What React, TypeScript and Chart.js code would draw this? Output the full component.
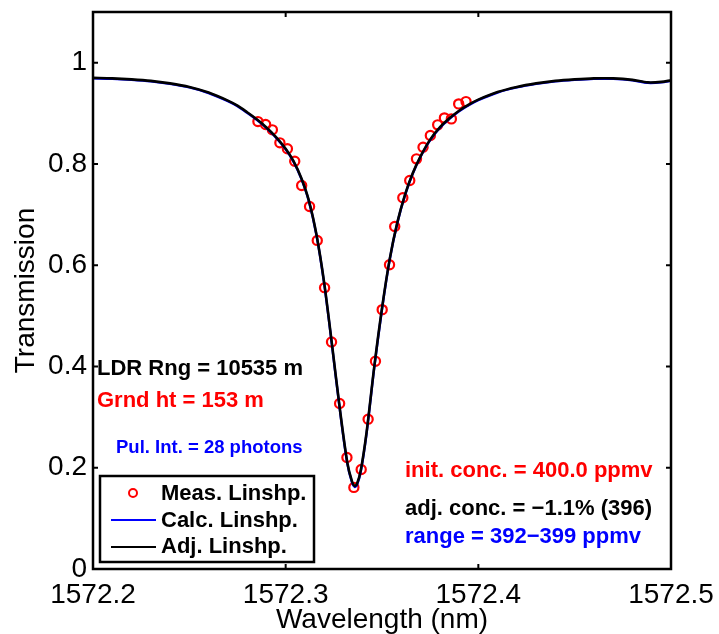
import React, { useEffect, useRef } from "react";
import { Chart, registerables } from "chart.js";

Chart.register(...registerables);

// ---- data ----
const measX = [
  1572.2856, 1572.2896, 1572.2931, 1572.297, 1572.3009, 1572.3047, 1572.3083, 1572.3124,
  1572.3164, 1572.3202, 1572.3238, 1572.328, 1572.3318, 1572.3354, 1572.3392, 1572.3428,
  1572.3466, 1572.3501, 1572.3539, 1572.3566, 1572.3608, 1572.3644, 1572.3679, 1572.3713,
  1572.3751, 1572.3789, 1572.3824, 1572.386, 1572.3898, 1572.3936,
];
const measY = [
  0.8836, 0.8777, 0.8673, 0.8416, 0.8298, 0.8053, 0.7574, 0.716,
  0.6489, 0.5556, 0.4483, 0.3268, 0.2203, 0.1611, 0.1966, 0.2959,
  0.4103, 0.5122, 0.601, 0.6765, 0.7331, 0.7673, 0.81, 0.833,
  0.856, 0.8771, 0.8909, 0.8889, 0.9185, 0.9231,
];

const curveX = [
  1572.2, 1572.21, 1572.22, 1572.23, 1572.24, 1572.25, 1572.26, 1572.27, 1572.275, 1572.28,
  1572.285, 1572.29, 1572.295, 1572.3, 1572.304, 1572.308, 1572.312, 1572.316, 1572.32, 1572.324,
  1572.328, 1572.332, 1572.3345, 1572.3358, 1572.337, 1572.339, 1572.342, 1572.346, 1572.35, 1572.354,
  1572.358, 1572.362, 1572.366, 1572.37, 1572.375, 1572.38, 1572.385, 1572.39, 1572.395, 1572.4,
  1572.41, 1572.42, 1572.43, 1572.44, 1572.45, 1572.46, 1572.47, 1572.48, 1572.488, 1572.495, 1572.5,
];
const adjY = [
  0.970, 0.969, 0.967, 0.964, 0.959, 0.952, 0.941, 0.925, 0.915, 0.902,
  0.888, 0.872, 0.853, 0.830, 0.806, 0.773, 0.728, 0.660, 0.565, 0.445,
  0.320, 0.210, 0.172, 0.164, 0.168, 0.195, 0.270, 0.400, 0.515, 0.612,
  0.685, 0.740, 0.782, 0.815, 0.848, 0.872, 0.890, 0.905, 0.917, 0.927,
  0.942, 0.952, 0.959, 0.964, 0.967, 0.969, 0.969, 0.966, 0.961, 0.962, 0.965,
];
const calcY = [
  0.969, 0.968, 0.966, 0.963, 0.958, 0.951, 0.940, 0.924, 0.914, 0.901,
  0.887, 0.871, 0.852, 0.829, 0.805, 0.772, 0.727, 0.659, 0.563, 0.443,
  0.318, 0.208, 0.170, 0.162, 0.166, 0.193, 0.268, 0.398, 0.513, 0.611,
  0.684, 0.739, 0.781, 0.814, 0.847, 0.871, 0.889, 0.904, 0.916, 0.926,
  0.941, 0.951, 0.958, 0.963, 0.966, 0.968, 0.968, 0.965, 0.960, 0.961, 0.964,
];

const xTicks = [1572.2, 1572.3, 1572.4, 1572.5];
const yTicks = [0, 0.2, 0.4, 0.6, 0.8, 1];

const seriesNames = ["Meas. Linshp.", "Calc. Linshp.", "Adj. Linshp."];
const leftNotes = ["LDR Rng = 10535 m", "Grnd ht = 153 m", "Pul. Int. = 28 photons"];
const rightNotes = ["init. conc. = 400.0 ppmv", "adj. conc. = \u22121.1% (396)", "range = 392\u2212399 ppmv"];

// ---- styles ----
const FONT = "'Liberation Sans', Arial, Helvetica, sans-serif";
const RED = "#ff0000";
const BLUE = "#0000ff";
const BLACK = "#000000";

const overlayPlugin = {
  id: "overlay",
  afterDraw(chart: any) {
    const ctx = chart.ctx as CanvasRenderingContext2D;
    const { left, right, top, bottom } = chart.chartArea;
    const xs = chart.scales.x;
    const ys = chart.scales.y;
    ctx.save();
    // box
    ctx.strokeStyle = BLACK;
    ctx.lineWidth = 2.5;
    ctx.strokeRect(left, top, right - left, bottom - top);
    // inward ticks
    const tl = 5;
    ctx.lineWidth = 2;
    ctx.beginPath();
    xTicks.forEach((v) => {
      const px = xs.getPixelForValue(v);
      ctx.moveTo(px, bottom);
      ctx.lineTo(px, bottom - tl);
      ctx.moveTo(px, top);
      ctx.lineTo(px, top + tl);
    });
    yTicks.forEach((v) => {
      const py = ys.getPixelForValue(v);
      ctx.moveTo(left, py);
      ctx.lineTo(left + tl, py);
      ctx.moveTo(right, py);
      ctx.lineTo(right - tl, py);
    });
    ctx.stroke();

    // annotations
    ctx.textAlign = "left";
    ctx.textBaseline = "alphabetic";
    ctx.font = `bold 22px ${FONT}`;
    ctx.fillStyle = BLACK;
    ctx.fillText(leftNotes[0], left + 4, top + 363);
    ctx.fillStyle = RED;
    ctx.fillText(leftNotes[1], left + 4, top + 395);
    ctx.font = `bold 18.5px ${FONT}`;
    ctx.fillStyle = BLUE;
    ctx.fillText(leftNotes[2], left + 23, top + 441);

    ctx.font = `bold 22px ${FONT}`;
    ctx.fillStyle = RED;
    ctx.fillText(rightNotes[0], left + 312, top + 465);
    ctx.fillStyle = BLACK;
    ctx.fillText(rightNotes[1], left + 312, top + 503);
    ctx.fillStyle = BLUE;
    ctx.fillText(rightNotes[2], left + 312, top + 531);

    // legend
    const lx = left + 7;
    const ly = top + 464;
    const lw = 214;
    const lh = 86;
    ctx.fillStyle = "#ffffff";
    ctx.fillRect(lx, ly, lw, lh);
    ctx.strokeStyle = BLACK;
    ctx.lineWidth = 2.5;
    ctx.strokeRect(lx, ly, lw, lh);
    ctx.font = `bold 22px ${FONT}`;
    ctx.fillStyle = BLACK;
    const textX = lx + 61;
    const rows = [ly + 24, ly + 51, ly + 77];
    ctx.beginPath();
    ctx.strokeStyle = RED;
    ctx.lineWidth = 2;
    ctx.arc(lx + 33, rows[0] - 7, 4, 0, Math.PI * 2);
    ctx.stroke();
    ctx.beginPath();
    ctx.strokeStyle = BLUE;
    ctx.lineWidth = 2;
    ctx.moveTo(lx + 11, rows[1] - 7);
    ctx.lineTo(lx + 56, rows[1] - 7);
    ctx.stroke();
    ctx.beginPath();
    ctx.strokeStyle = BLACK;
    ctx.lineWidth = 2;
    ctx.moveTo(lx + 11, rows[2] - 6);
    ctx.lineTo(lx + 56, rows[2] - 6);
    ctx.stroke();
    seriesNames.forEach((n, i) => ctx.fillText(n, textX, rows[i]));
    ctx.restore();
  },
};

export default function App() {
  const ref = useRef<HTMLCanvasElement>(null);
  useEffect(() => {
    document.body.style.margin = "0";
    const canvas = ref.current!;
    const chart = new Chart(canvas, {
      type: "scatter",
      data: {
        datasets: [
          {
            label: seriesNames[2],
            data: curveX.map((x, i) => ({ x, y: adjY[i] })),
            showLine: true,
            borderColor: BLACK,
            borderWidth: 2.6,
            pointRadius: 0,
            tension: 0.3,
            order: 0,
          } as any,
          {
            label: seriesNames[1],
            data: curveX.map((x, i) => ({ x, y: calcY[i] })),
            showLine: true,
            borderColor: BLUE,
            borderWidth: 2.4,
            pointRadius: 0,
            tension: 0.3,
            order: 1,
          } as any,
          {
            label: seriesNames[0],
            data: measX.map((x, i) => ({ x, y: measY[i] })),
            showLine: false,
            borderColor: RED,
            backgroundColor: "rgba(0,0,0,0)",
            borderWidth: 2.2,
            pointRadius: 4.6,
            pointStyle: "circle",
            order: 2,
          } as any,
        ],
      },
      options: {
        animation: false,
        responsive: false,
        maintainAspectRatio: false,
        layout: { padding: { top: 12, right: 48, left: 0, bottom: 0 } },
        plugins: { legend: { display: false }, tooltip: { enabled: false } },
        scales: {
          x: {
            type: "linear",
            min: 1572.2,
            max: 1572.5,
            afterFit: (s: any) => {
              s.height = 65;
              s.paddingLeft = 0;
              s.paddingRight = 0;
              s.paddingTop = 0;
              s.paddingBottom = 0;
            },
            afterBuildTicks: (s: any) => {
              s.ticks = xTicks.map((v) => ({ value: v }));
            },
            grid: { display: false, drawTicks: false },
            border: { display: false },
            ticks: {
              autoSkip: false,
              maxRotation: 0,
              padding: 9,
              color: BLACK,
              font: { family: FONT, size: 28 },
              callback: (v: any) => Number(v).toFixed(1),
            },
            title: {
              display: true,
              text: "Wavelength (nm)",
              color: BLACK,
              font: { family: FONT, size: 28 },
              padding: { top: 0, bottom: -3 },
            },
          },
          y: {
            type: "linear",
            min: 0,
            max: 1.1,
            afterFit: (s: any) => {
              s.width = 93;
              s.paddingLeft = 0;
              s.paddingRight = 0;
              s.paddingTop = 0;
              s.paddingBottom = 0;
            },
            afterBuildTicks: (s: any) => {
              s.ticks = yTicks.map((v) => ({ value: v }));
            },
            grid: { display: false, drawTicks: false },
            border: { display: false },
            ticks: {
              autoSkip: false,
              padding: 6,
              color: BLACK,
              font: { family: FONT, size: 28 },
              callback: (v: any) => String(Number(Number(v).toFixed(1))),
            },
            title: {
              display: true,
              text: "Transmission",
              color: BLACK,
              font: { family: FONT, size: 28 },
              padding: { top: 9, bottom: 0 },
            },
          },
        },
      },
      plugins: [overlayPlugin],
    });
    return () => chart.destroy();
  }, []);
  return (
    <div style={{ position: "absolute", left: 0, top: 0, width: 719, height: 634, background: "#fff" }}>
      <canvas ref={ref} width={719} height={634} style={{ width: 719, height: 634, display: "block" }} />
    </div>
  );
}
